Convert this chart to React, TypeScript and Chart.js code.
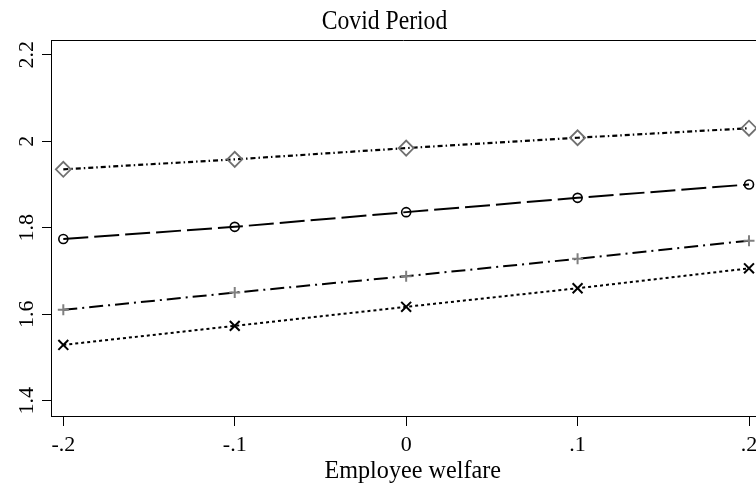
import { useEffect, useRef } from "react";
import { Chart, registerables } from "chart.js";

Chart.register(...registerables);

const welfare = [-0.2, -0.1, 0, 0.1, 0.2];
const seriesDiamond = [1.935, 1.958, 1.984, 2.008, 2.03];
const seriesCircle = [1.774, 1.802, 1.836, 1.869, 1.9];
const seriesPlus = [1.61, 1.65, 1.688, 1.728, 1.77];
const seriesX = [1.529, 1.573, 1.617, 1.66, 1.706];

const xTicks = [-0.2, -0.1, 0, 0.1, 0.2];
const xTickLabels = ["-.2", "-.1", "0", ".1", ".2"];
const yTicks = [1.4, 1.6, 1.8, 2, 2.2];
const yTickLabels = ["1.4", "1.6", "1.8", "2", "2.2"];

const titleText = "Covid Period";
const xTitleText = "Employee welfare";

const FONT = '"Liberation Serif", "Times New Roman", serif';

function labelFor(values: number[], labels: string[], v: number) {
  const i = values.findIndex((t) => Math.abs(t - v) < 1e-9);
  return i >= 0 ? labels[i] : "";
}

function condensedText(ctx: any, text: string, x: number, y: number, size: number, sx: number) {
  ctx.save();
  ctx.translate(x, y);
  ctx.scale(sx, 1);
  ctx.font = `${size}px ${FONT}`;
  ctx.textAlign = "center";
  ctx.textBaseline = "alphabetic";
  ctx.fillText(text, 0, 0);
  ctx.restore();
}

const textPlugin = {
  id: "stataText",
  afterDraw(chart: any) {
    const { ctx, chartArea } = chart;
    const yScale = chart.scales.y;
    ctx.save();
    // top border of plot region
    ctx.strokeStyle = "#000";
    ctx.lineWidth = 1;
    ctx.beginPath();
    ctx.moveTo(chartArea.left, chartArea.top + 0.5);
    ctx.lineTo(chartArea.right, chartArea.top + 0.5);
    ctx.stroke();

    ctx.fillStyle = "#000";
    // title and x-axis title
    condensedText(ctx, titleText, 384.5, 29, 27.5, 0.86);
    condensedText(ctx, xTitleText, 412.7, 477.7, 26, 0.93);

    // y tick labels, rotated
    ctx.font = `22px ${FONT}`;
    yTicks.forEach((v) => {
      const py = yScale.getPixelForValue(v);
      ctx.save();
      ctx.translate(yScale.right - 18, py);
      ctx.rotate(-Math.PI / 2);
      ctx.textAlign = "center";
      ctx.textBaseline = "alphabetic";
      ctx.fillText(labelFor(yTicks, yTickLabels, v), 0, 0);
      ctx.restore();
    });
    ctx.restore();
  },
};

function pts(ys: number[]) {
  return welfare.map((x, i) => ({ x, y: ys[i] }));
}

export default function App() {
  const ref = useRef<HTMLCanvasElement | null>(null);

  useEffect(() => {
    if (!ref.current) return;
    const chart = new Chart(ref.current, {
      type: "line",
      data: {
        datasets: [
          {
            label: "diamond",
            data: pts(seriesDiamond),
            borderColor: "#000",
            borderWidth: 2.2,
            borderDash: [5, 3, 1.5, 3],
            pointStyle: "rectRot",
            pointRadius: 7.5,
            pointBorderWidth: 1.8,
            pointBorderColor: "#707070",
            pointBackgroundColor: "rgba(0,0,0,0)",
            tension: 0,
            fill: false,
          },
          {
            label: "circle",
            data: pts(seriesCircle),
            borderColor: "#000",
            borderWidth: 2,
            borderDash: [25, 6],
            pointStyle: "circle",
            pointRadius: 4.5,
            pointBorderWidth: 1.6,
            pointBorderColor: "#000",
            pointBackgroundColor: "rgba(0,0,0,0)",
            tension: 0,
            fill: false,
          },
          {
            label: "plus",
            data: pts(seriesPlus),
            borderColor: "#000",
            borderWidth: 2,
            borderDash: [14, 5, 2, 5],
            pointStyle: "cross",
            pointRadius: 5.5,
            pointBorderWidth: 2,
            pointBorderColor: "#808080",
            pointBackgroundColor: "rgba(0,0,0,0)",
            tension: 0,
            fill: false,
          },
          {
            label: "x",
            data: pts(seriesX),
            borderColor: "#000",
            borderWidth: 2,
            borderDash: [3, 3],
            pointStyle: "crossRot",
            pointRadius: 7,
            pointBorderWidth: 2,
            pointBorderColor: "#000",
            pointBackgroundColor: "rgba(0,0,0,0)",
            tension: 0,
            fill: false,
          },
        ],
      },
      options: {
        responsive: false,
        maintainAspectRatio: false,
        animation: false,
        layout: { autoPadding: false, padding: { top: 40, left: 0, right: 0, bottom: 0 } },
        plugins: {
          legend: { display: false },
          title: { display: false },
          tooltip: { enabled: false },
        },
        scales: {
          x: {
            type: "linear",
            position: "bottom",
            min: -0.20718,
            max: 0.20408,
            afterBuildTicks: (scale: any) => {
              scale.ticks = xTicks.map((v) => ({ value: v }));
            },
            afterFit: (scale: any) => {
              scale.height = 80;
              scale.paddingLeft = 0;
              scale.paddingRight = 0;
            },
            grid: {
              display: true,
              drawOnChartArea: false,
              drawTicks: true,
              tickLength: 10,
              tickColor: "#000",
              tickWidth: 1,
            },
            border: { display: true, color: "#000", width: 1 },
            ticks: {
              autoSkip: false,
              maxRotation: 0,
              minRotation: 0,
              padding: 6,
              color: "#000",
              font: { family: FONT, size: 22 },
              callback: (value: any) => labelFor(xTicks, xTickLabels, Number(value)),
            },
          },
          y: {
            type: "linear",
            position: "left",
            min: 1.3646,
            max: 2.234,
            afterBuildTicks: (scale: any) => {
              scale.ticks = yTicks.map((v) => ({ value: v }));
            },
            afterFit: (scale: any) => {
              scale.width = 51;
              scale.paddingTop = 0;
              scale.paddingBottom = 0;
            },
            grid: {
              display: true,
              drawOnChartArea: false,
              drawTicks: true,
              tickLength: 9,
              tickColor: "#000",
              tickWidth: 1,
            },
            border: { display: true, color: "#000", width: 1 },
            ticks: { display: false },
          },
        },
      },
      plugins: [textPlugin],
    });
    return () => chart.destroy();
  }, []);

  return (
    <div style={{ position: "fixed", left: 0, top: 0, width: 756, height: 496, background: "#fff" }}>
      <canvas ref={ref} width={756} height={496} style={{ display: "block", width: 756, height: 496 }} />
    </div>
  );
}
